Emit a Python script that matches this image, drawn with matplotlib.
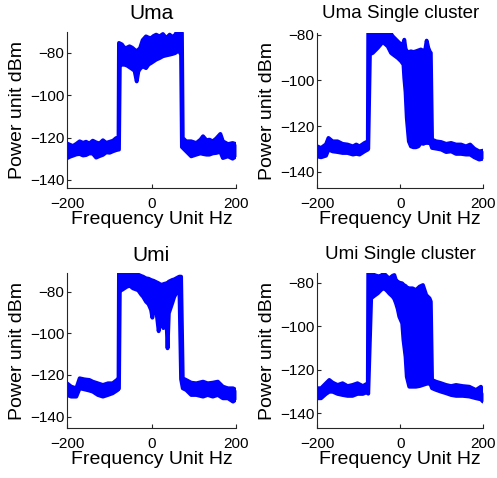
import matplotlib
matplotlib.use("Agg")
import matplotlib.pyplot as plt

plt.rcParams['font.family'] = ['Liberation Sans', 'DejaVu Sans']

# ---------------- data (envelope of the noisy spectra) ----
titles = ["Uma", "Uma Single cluster", "Umi", "Umi Single cluster"]
x_label = "Frequency Unit Hz"
y_label = "Power unit dBm"
x_ticks = [-200, 0, 200]
y_ticks = [-140, -120, -100, -80]

uma_f = [-200, -192, -186, -178, -170, -162, -155, -147, -139, -131, -123, -115, -107, -99, -91, -84, -78,
         -77, -75, -70, -64, -58, -52, -46, -40, -35, -31, -27, -21, -13, -7, -1, 5, 11, 19, 27, 35, 43,
         50, 56, 60, 66, 70, 72,
         74, 82, 94, 106, 116, 122, 130, 137, 145, 153, 163, 169, 181, 192, 200]
uma_hi = [-122.8, -123.5, -124.0, -123.0, -121.8, -122.5, -122.0, -122.8, -121.5, -122.3, -122.8, -121.3,
          -122.5, -122.0, -121.5, -120.3, -119.9,
          -75.3, -75.5, -76.0, -77.7, -77.5, -76.9, -77.5, -78.5, -79.3, -78.5, -77.7, -74.0, -72.2, -72.8,
          -73.0, -72.0, -71.4, -72.2, -71.1, -73.0, -71.4, -72.5, -71.5, -70.1, -69.9, -70.3, -70.6,
          -120.2, -121.8, -121.8, -122.6, -121.0, -119.4, -121.3, -121.0, -121.8, -120.5, -118.3, -121.8,
          -123.1, -122.6, -123.1]
uma_lo = [-129.8, -129.0, -128.6, -128.0, -127.8, -128.5, -128.3, -127.5, -127.6, -129.5, -128.8, -128.2,
          -127.0, -127.2, -126.5, -126.0, -125.7,
          -125.7, -86.0, -85.6, -85.6, -86.0, -86.8, -87.6, -88.5, -93.5, -88.7, -87.5, -86.4, -87.2, -85.5,
          -84.8, -84.0, -83.2, -82.5, -81.6, -81.2, -80.85, -80.5, -80.1, -79.5, -79.3, -80.85, -124.5,
          -124.9, -126.5, -128.9, -128.1, -127.5, -127.8, -128.1, -128.1, -127.5, -127.3, -126.8, -129.7,
          -128.9, -130.0, -128.9]

umas_f = [-200, -191, -179, -173, -163, -151, -139, -127, -114, -106, -98, -86, -78,
          -77, -73, -66, -54, -42, -30, -22, -18, -6, 2, 8, 10, 13, 16, 21, 26, 32, 38, 44, 50, 56, 60,
          64, 68, 72, 74,
          77, 87, 99, 111, 123, 135, 147, 159, 169, 179, 191, 200]
umas_hi = [-128.9, -129.6, -128.0, -125.2, -126.7, -126.7, -127.8, -128.1, -128.9, -128.1, -128.9, -127.4,
           -126.7,
           -78.4, -78.4, -78.4, -78.4, -78.4, -78.7, -79.5, -80.6, -82.8, -84.2, -83.5, -82.1, -86.0, -87.2,
           -87.5, -87.2, -87.5, -87.2, -86.8, -86.4, -87.0, -87.2, -82.5, -85.7, -87.5, -87.9,
           -125.9, -126.7, -127.0, -127.8, -127.4, -128.1, -128.1, -128.9, -128.1, -129.9, -131.1, -130.8]
umas_lo = [-133.3, -133.7, -133.0, -130.3, -131.1, -131.4, -131.8, -131.8, -132.5, -132.2, -132.5, -131.1,
           -130.3,
           -130.0, -88.5, -87.9, -85.7, -83.1, -85.0, -87.9, -88.5, -90.1, -91.5, -93.0, -98.9, -105.0,
           -116.4, -126.7, -128.9, -129.3, -129.3, -128.9, -127.4, -127.8, -127.4, -127.4, -127.4, -127.4,
           -128.0,
           -129.6, -129.9, -130.3, -131.4, -131.1, -132.2, -132.2, -132.5, -132.5, -133.7, -134.7, -134.3]

umi_f = [-200, -190, -178, -170, -159, -147, -139, -127, -115, -103, -92, -80, -78,
         -77, -75, -70, -58, -51, -44, -36, -32, -24, -20, -13, -7, -1, 2, 5, 9, 13, 17, 20, 24, 28, 31,
         35, 38, 41, 49, 54, 63, 66, 70,
         74, 82, 94, 106, 122, 133, 145, 157, 169, 181, 193, 200]
umi_hi = [-124.0, -125.6, -126.4, -121.6, -122.1, -122.4, -123.2, -124.0, -124.8, -124.0, -124.0, -122.1,
          -121.6,
          -70.4, -70.4, -70.4, -70.5, -70.9, -71.0, -71.5, -71.8, -72.5, -72.8, -73.6, -73.8, -74.4, -74.6,
          -74.8, -75.2, -75.6, -76.0, -76.4, -76.8, -76.4, -76.2, -76.0, -75.8, -75.2, -74.4, -74.1, -73.1,
          -72.8, -72.8,
          -121.6, -122.4, -123.7, -124.0, -123.2, -124.0, -123.7, -123.2, -125.6, -126.4, -126.4, -127.2]
umi_lo = [-129.6, -130.4, -130.4, -126.4, -126.9, -127.5, -128.0, -129.6, -130.4, -129.6, -128.8, -127.2,
          -126.5,
          -126.5, -79.5, -79.2, -77.6, -77.2, -78.4, -79.0, -79.2, -81.5, -82.4, -84.8, -86.0, -88.8, -92.5,
          -88.0, -87.2, -92.0, -99.0, -93.0, -94.0, -97.5, -90.4, -91.5, -107.2, -90.4, -85.6, -82.4, -79.2,
          -77.6, -122.0,
          -126.4, -127.2, -129.6, -129.6, -130.4, -129.6, -130.4, -129.6, -131.2, -131.2, -132.8, -131.7]

umis_f = [-200, -191, -179, -171, -163, -151, -139, -127, -115, -103, -90, -78,
          -77, -70, -62, -54, -50, -42, -38, -30, -26, -18, -14, -10, -6, -2, 5, 8, 13, 16, 22, 30, 38,
          47, 55, 63, 71, 74,
          77, 87, 99, 111, 123, 135, 151, 167, 183, 195, 200]
umis_hi = [-128.5, -128.5, -126.2, -124.7, -125.9, -127.0, -126.2, -127.5, -127.0, -126.2, -127.5, -126.2,
           -75.4, -75.4, -76.5, -77.0, -77.2, -76.2, -76.0, -77.5, -78.0, -76.8, -76.5, -79.0, -79.5, -80.0,
           -80.3, -81.0, -81.5, -82.2, -82.6, -82.6, -83.4, -81.8, -81.1, -85.7, -87.2, -88.7,
           -124.7, -125.5, -126.2, -127.0, -127.5, -127.0, -127.5, -127.8, -129.3, -127.8, -130.8]
umis_lo = [-133.1, -133.1, -131.1, -130.1, -130.1, -131.1, -131.6, -132.0, -132.0, -131.1, -131.1, -130.1,
           -131.0, -87.2, -86.0, -84.9, -84.1, -82.6, -82.6, -84.1, -85.0, -86.4, -87.5, -89.5, -92.0, -95.6,
           -98.7, -106.3, -114.0, -123.2, -127.8, -127.8, -127.8, -127.5, -127.0, -126.5, -126.2, -127.0,
           -128.5, -129.3, -130.1, -130.8, -131.6, -132.0, -132.0, -132.3, -133.1, -133.6, -134.6]

# ---------------- layout -------------------------------------------------------
W, H = 497, 478
fig = plt.figure(figsize=(W / 100, H / 100), dpi=100)

def box(x0, y0, x1, y1):
    return [x0 / W, 1 - y1 / H, (x1 - x0) / W, (y1 - y0) / H]

panels = [
    (box(67, 31.7, 236, 188.3), uma_f, uma_hi, uma_lo, (-144, -70), 15, 9),
    (box(317.3, 33.3, 483, 188.3), umas_f, umas_hi, umas_lo, (-147.3, -79.3), 13.5, 11),
    (box(67, 273.3, 236, 428.3), umi_f, umi_hi, umi_lo, (-145.6, -71.2), 15, 9),
    (box(317.3, 273.3, 483, 428.3), umis_f, umis_hi, umis_lo, (-146.9, -75.7), 13.5, 10),
]

blue = "#0000ff"
for title, (rect, f, hi, lo, ylim, tsize, tpad) in zip(titles, panels):
    ax = fig.add_axes(rect)
    ax.fill_between(f, lo, hi, color=blue, linewidth=0)
    ax.plot(f, hi, color=blue, lw=2.8, solid_capstyle='round', solid_joinstyle='round')
    ax.plot(f, lo, color=blue, lw=2.8, solid_capstyle='round', solid_joinstyle='round')
    ax.set_xlim(-200, 200)
    ax.set_ylim(*ylim)
    ax.set_xticks(x_ticks)
    ax.set_yticks(y_ticks)
    ax.spines['top'].set_visible(False)
    ax.spines['right'].set_visible(False)
    for s in ('left', 'bottom'):
        ax.spines[s].set_color('#262626')
        ax.spines[s].set_linewidth(0.8)
    ax.tick_params(direction='in', length=3, width=0.8, labelsize=11, colors='#262626')
    ax.tick_params(axis='y', pad=2)
    ax.tick_params(axis='x', pad=6)
    for lab in ax.get_xticklabels() + ax.get_yticklabels():
        lab.set_color('black')
    ax.set_title(title, fontsize=tsize, pad=tpad)
    ax.set_xlabel(x_label, fontsize=14, labelpad=0)
    ax.set_ylabel(y_label, fontsize=14, labelpad=3)

fig.savefig("out.png", dpi=100)
